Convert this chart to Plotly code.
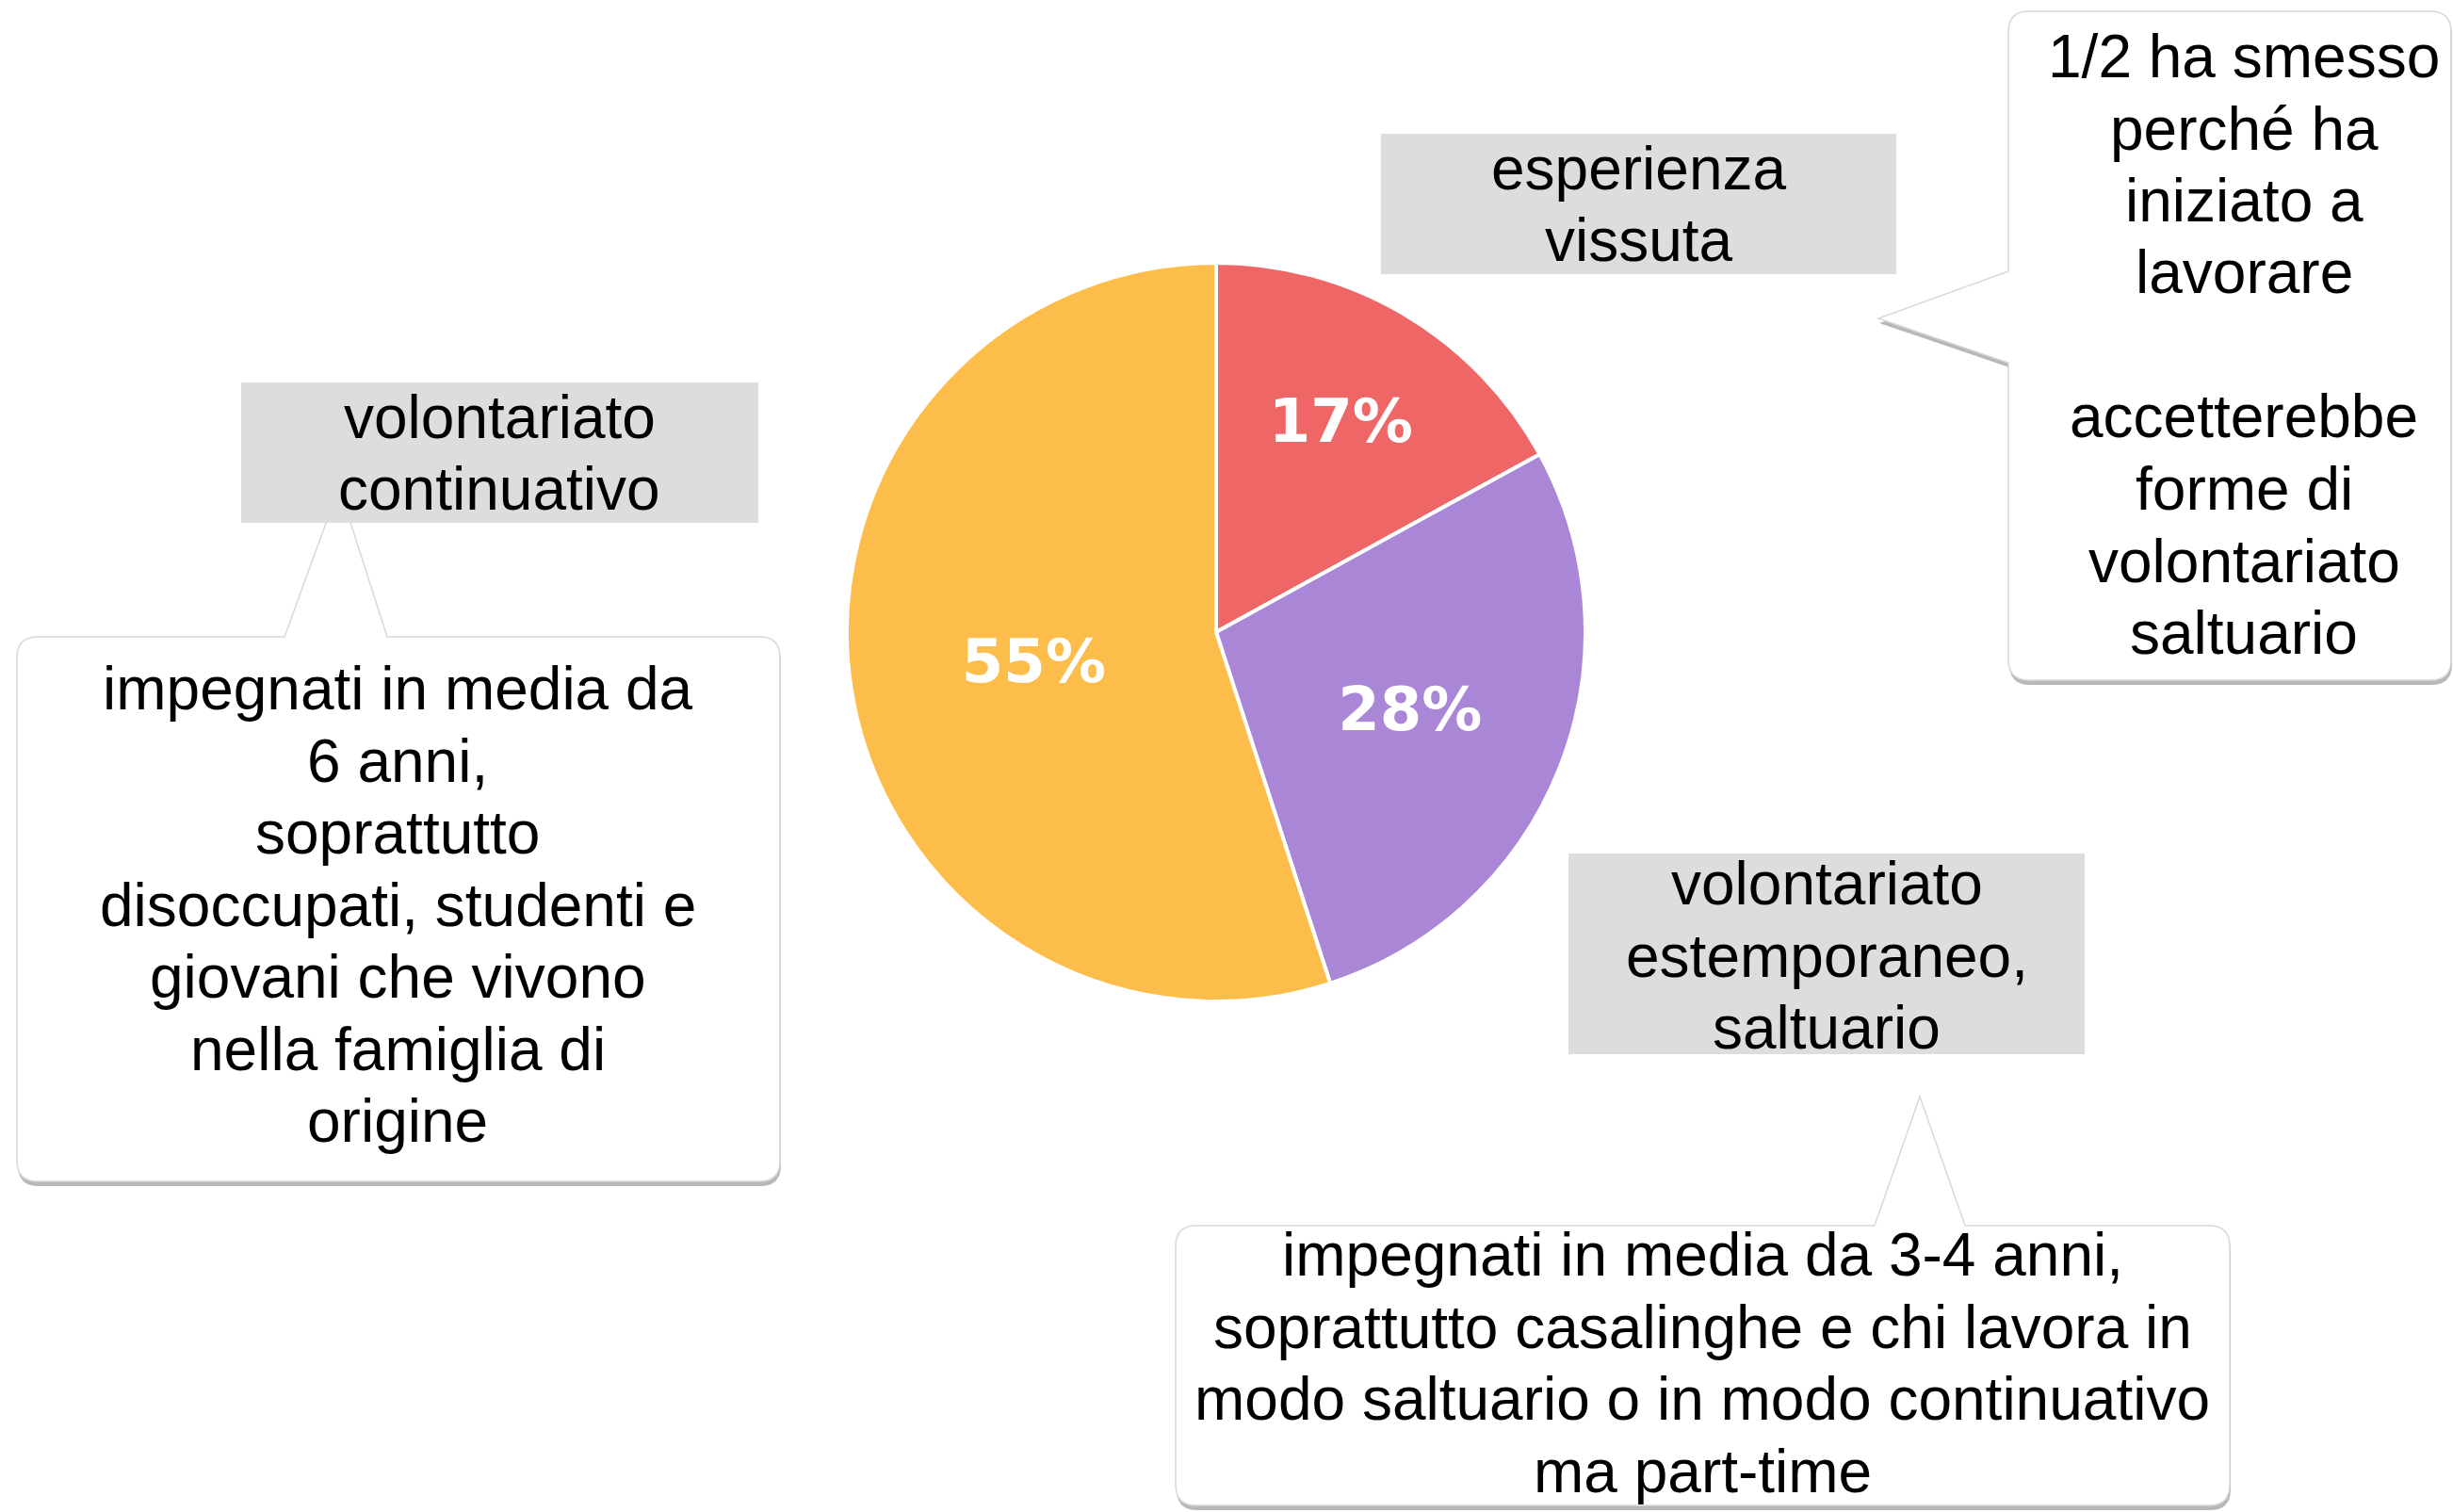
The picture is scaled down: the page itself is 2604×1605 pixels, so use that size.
import plotly.graph_objects as go

# ---------------- data ----------------
categories = ["esperienza vissuta", "volontariato estemporaneo, saltuario", "volontariato continuativo"]
values = [17, 28, 55]
slice_colors = ["#EE6766", "#A987D6", "#FDBD4B"]

label_esperienza = ["esperienza", "vissuta"]
label_estemporaneo = ["volontariato", "estemporaneo,", "saltuario"]
label_continuativo = ["volontariato", "continuativo"]

note_esperienza = ["1/2 ha smesso", "perché ha", "iniziato a", "lavorare", "",
                   "accetterebbe", "forme di", "volontariato", "saltuario"]
note_estemporaneo = ["impegnati in media da 3-4 anni,",
                     "soprattutto casalinghe e chi lavora in",
                     "modo saltuario o in modo continuativo",
                     "ma part-time"]
note_continuativo = ["impegnati in media da", "6 anni,", "soprattutto",
                     "disoccupati, studenti e", "giovani che vivono",
                     "nella famiglia di", "origine"]

# ---------------- layout helpers ----------------
W, H = 2604, 1605
LINE = 76.5
FONT = "Liberation Sans, Arial, sans-serif"


def X(px):
    return px / W


def Y(py):
    return 1 - py / H


def P(x, y):
    return f"{X(x):.6f},{Y(y):.6f}"


def bubble_path(x0, y0, x1, y1, r, tail=None, dx=0, dy=0):
    """Rounded rectangle (pixel coords) with optional tail.
    tail = ('top', a, b, tipx, tipy) or ('left', a, b, tipx, tipy)"""
    x0, x1 = x0 + dx, x1 + dx
    y0, y1 = y0 + dy, y1 + dy
    segs = [f"M{P(x0 + r, y0)}"]
    if tail and tail[0] == "top":
        _, a, b, tx, ty = tail
        segs += [f"L{P(a + dx, y0)}", f"L{P(tx + dx, ty + dy)}", f"L{P(b + dx, y0)}"]
    segs += [f"L{P(x1 - r, y0)}", f"Q{P(x1, y0)} {P(x1, y0 + r)}",
             f"L{P(x1, y1 - r)}", f"Q{P(x1, y1)} {P(x1 - r, y1)}",
             f"L{P(x0 + r, y1)}", f"Q{P(x0, y1)} {P(x0, y1 - r)}"]
    if tail and tail[0] == "left":
        _, a, b, tx, ty = tail
        segs += [f"L{P(x0, b + dy)}", f"L{P(tx + dx, ty + dy)}", f"L{P(x0, a + dy)}"]
    segs += [f"L{P(x0, y0 + r)}", f"Q{P(x0, y0)} {P(x0 + r, y0)}", "Z"]
    return " ".join(segs)


shapes = []
annotations = []


def add_bubble(x0, y0, x1, y1, tail):
    shapes.append(dict(type="path", xref="paper", yref="paper",
                       path=bubble_path(x0, y0, x1, y1, 22, tail, dx=1, dy=5),
                       fillcolor="rgba(0,0,0,0.28)", line=dict(width=0)))
    shapes.append(dict(type="path", xref="paper", yref="paper",
                       path=bubble_path(x0, y0, x1, y1, 22, tail),
                       fillcolor="white", line=dict(color="#D8D8D8", width=1.5)))


def add_gray(x0, y0, x1, y1):
    shapes.append(dict(type="rect", xref="paper", yref="paper",
                       x0=X(x0), x1=X(x1), y0=Y(y1), y1=Y(y0),
                       fillcolor="#DCDDDF", line=dict(width=0)))


def add_lines(lines, cx, y_first):
    for i, t in enumerate(lines):
        if not t:
            continue
        annotations.append(dict(xref="paper", yref="paper", x=X(cx), y=Y(y_first + i * LINE),
                                text=t, showarrow=False, xanchor="center", yanchor="middle",
                                font=dict(family=FONT, size=64, color="black")))


# callout bubbles
add_bubble(18, 676, 828, 1254, ("top", 302, 411, 360, 517))
add_bubble(2132, 12, 2602, 722, ("left", 288, 385, 1994, 338))
add_bubble(1248, 1301, 2367, 1598, ("top", 1990, 2086, 2038, 1164))

# gray category labels
add_gray(1466, 142, 2013, 291)
add_gray(256, 406, 805, 555)
add_gray(1665, 906, 2213, 1119)

add_lines(label_esperienza, 1740, 179)
add_lines(label_continuativo, 530, 443)
add_lines(label_estemporaneo, 1939, 938)

add_lines(note_esperienza, 2382, 60)
add_lines(note_estemporaneo, 1807, 1332)
add_lines(note_continuativo, 422, 731)

# pie geometry (pixels)
cx, cy, R = 1291, 671, 392

fig = go.Figure(go.Pie(
    labels=categories,
    values=values,
    sort=False,
    direction="clockwise",
    rotation=0,
    marker=dict(colors=slice_colors, line=dict(color="white", width=4)),
    textinfo="percent",
    textposition="inside",
    insidetextorientation="horizontal",
    insidetextfont=dict(family="DejaVu Sans", size=64, color="white", weight="bold"),
    showlegend=False,
    hoverinfo="label+percent",
    domain=dict(x=[X(cx - R), X(cx + R)], y=[Y(cy + R), Y(cy - R)]),
))

fig.update_layout(
    width=W, height=H,
    margin=dict(l=0, r=0, t=0, b=0),
    paper_bgcolor="white",
    plot_bgcolor="white",
    shapes=shapes,
    annotations=annotations,
    showlegend=False,
)

fig.write_html("out.html", config={"displayModeBar": False},
               post_script="document.body.style.margin='0';document.body.style.overflow='hidden';")
